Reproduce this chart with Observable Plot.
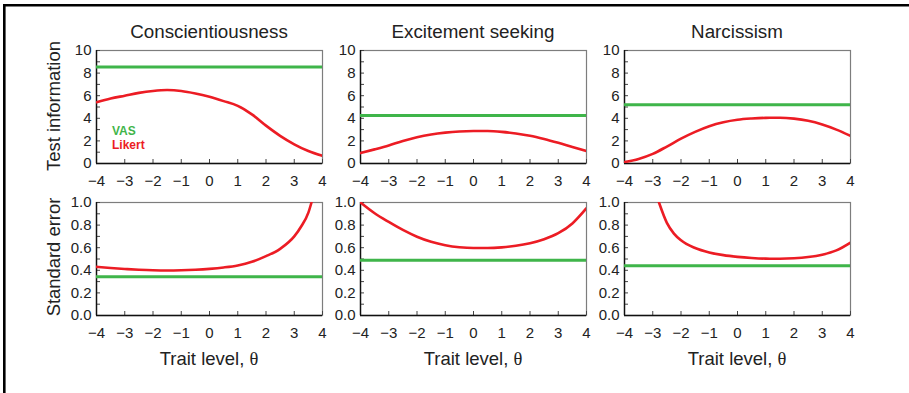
<!DOCTYPE html>
<html>
<head>
<meta charset="utf-8">
<script src="https://cdn.jsdelivr.net/npm/d3@7"></script>
<script src="https://cdn.jsdelivr.net/npm/@observablehq/plot@0.6"></script>
<style>
  html, body { margin: 0; padding: 0; background: #fff; }
  #wrap { position: relative; width: 909px; height: 393px; overflow: hidden; font-family: "Liberation Sans", Arial, Helvetica, sans-serif; }
  #wrap > svg, #wrap > figure { position: absolute; margin: 0; }
</style>
</head>
<body>
<div id="wrap"></div>
<script>
// ---------- data ----------
const traits = ["Conscientiousness", "Excitement seeking", "Narcissism"];
const rowTitles = ["Test information", "Standard error"];
const xLabel = "Trait level, ";
const legendLabels = ["VAS", "Likert"];

const xTicks = [-4, -3, -2, -1, 0, 1, 2, 3, 4];
const infoTicks = [0, 2, 4, 6, 8, 10];
const infoMinor = [1, 3, 5, 7, 9];
const seTicks = [0, 0.2, 0.4, 0.6, 0.8, 1.0];
const seMinor = [0.1, 0.3, 0.5, 0.7, 0.9];

const theta = [-4, -3.5, -3, -2.5, -2, -1.5, -1, -0.5, 0, 0.5, 1, 1.5, 2, 2.5, 3, 3.5, 4];

// Test information, Likert
const consInfo = [5.42, 5.75, 6.0, 6.25, 6.42, 6.5, 6.42, 6.2, 5.9, 5.52, 5.1, 4.35, 3.35, 2.45, 1.7, 1.1, 0.68];
const excInfo  = [0.92, 1.25, 1.6, 2.0, 2.33, 2.57, 2.73, 2.83, 2.87, 2.87, 2.8, 2.66, 2.46, 2.17, 1.83, 1.46, 1.1];
const narcInfo = [0.12, 0.4, 0.85, 1.5, 2.2, 2.8, 3.3, 3.65, 3.87, 3.98, 4.04, 4.05, 3.97, 3.78, 3.45, 3.0, 2.45];
// Test information, VAS (flat)
const vasInfo = [8.55, 4.25, 5.19];

// Standard error, Likert
const consSETheta = [-4, -3.5, -3, -2.5, -2, -1.5, -1, -0.5, 0, 0.5, 1, 1.5, 2, 2.5, 3, 3.25, 3.5, 3.61];
const consSE      = [0.43, 0.42, 0.412, 0.405, 0.40, 0.398, 0.40, 0.405, 0.413, 0.425, 0.443, 0.475, 0.525, 0.59, 0.70, 0.79, 0.91, 1.0];
const excSETheta  = theta;
const excSE       = [1.0, 0.905, 0.828, 0.757, 0.697, 0.652, 0.622, 0.604, 0.597, 0.597, 0.603, 0.617, 0.64, 0.675, 0.728, 0.815, 0.95];
const narcSETheta = [-2.78, -2.5, -2.25, -2, -1.5, -1, -0.5, 0, 0.5, 1, 1.5, 2, 2.5, 3, 3.5, 4];
const narcSE      = [1.0, 0.82, 0.725, 0.665, 0.597, 0.558, 0.534, 0.519, 0.509, 0.503, 0.502, 0.506, 0.517, 0.538, 0.576, 0.645];
// Standard error, VAS (flat)
const vasSE = [0.343, 0.488, 0.44];

// ---------- style ----------
const GREEN = "#3fb54a";
const RED = "#ec1c24";
const FONT = '"Liberation Sans", Arial, Helvetica, sans-serif';

const colX = [96, 360, 624];
const rowY = [50, 202];
const PW = 226, PH = 113;
const ML = 40, MR = 6, MT = 6, MB = 30;

const wrap = document.getElementById("wrap");
const fmtX = d3.format("d");

function panel(col, row) {
  const isInfo = row === 0;
  const xs = isInfo ? theta : [consSETheta, excSETheta, narcSETheta][col];
  const ys = isInfo ? [consInfo, excInfo, narcInfo][col] : [consSE, excSE, narcSE][col];
  const data = xs.map((t, i) => ({t, v: ys[i]}));
  const domain = isInfo ? [0, 10] : [0, 1];
  const major = isInfo ? infoTicks : seTicks;
  const minor = isInfo ? infoMinor : seMinor;
  const vas = isInfo ? vasInfo[col] : vasSE[col];
  const chart = Plot.plot({
    width: PW + ML + MR,
    height: PH + MT + MB,
    marginLeft: ML, marginRight: MR, marginTop: MT, marginBottom: MB,
    x: {domain: [-4, 4]},
    y: {domain},
    style: {fontFamily: FONT, fontSize: "15px", color: "#222", background: "transparent", overflow: "visible"},
    marks: [
      Plot.frame({stroke: "#7d7d7d", strokeWidth: 1.2}),
      Plot.axisX(xTicks, {tickSize: 4, dy: -4, fill: "none", label: null, stroke: "#444"}),
      Plot.axisX(xTicks, {tickSize: 0, tickPadding: 12, label: null, tickFormat: fmtX, fontSize: 15}),
      Plot.axisY(major.concat(minor), {tickSize: 4, dx: 4, fill: "none", label: null, stroke: "#444"}),
      Plot.axisY(major, {tickSize: 0, tickPadding: 5, label: null, fontSize: 15, tickFormat: isInfo ? d3.format("d") : d3.format(".1f")}),
      Plot.ruleY([domain[0]], {stroke: "#111", strokeWidth: 1.4}),
      Plot.ruleX([-4], {stroke: "#111", strokeWidth: 1.4}),
      Plot.ruleY([vas], {stroke: GREEN, strokeWidth: 3}),
      Plot.line(data, {x: "t", y: "v", stroke: RED, strokeWidth: 2.6, curve: "monotone-x", clip: true})
    ]
  });
  chart.style.position = "absolute";
  chart.style.left = (colX[col] - ML) + "px";
  chart.style.top = (rowY[row] - MT) + "px";
  wrap.appendChild(chart);
}

for (let r = 0; r < 2; r++) for (let c = 0; c < 3; c++) panel(c, r);

// ---------- overlay text ----------
const svg = d3.select(wrap).append("svg")
  .attr("width", 909).attr("height", 393)
  .style("position", "absolute").style("left", 0).style("top", 0)
  .style("pointer-events", "none")
  .attr("font-family", FONT);

svg.append("path").attr("d", "M4.3,393 V5.3 H909").attr("fill", "none").attr("stroke", "#000").attr("stroke-width", 2.6);

traits.forEach((t, i) => {
  svg.append("text").attr("x", colX[i] + PW / 2).attr("y", 38).attr("text-anchor", "middle")
    .attr("font-size", 18.8).attr("fill", "#222").text(t);
  const tx = svg.append("text").attr("x", colX[i] + PW / 2).attr("y", 365).attr("text-anchor", "middle")
    .attr("font-size", 18.5).attr("fill", "#222");
  tx.append("tspan").text(xLabel);
  tx.append("tspan").attr("font-family", '"Liberation Serif", "DejaVu Serif", serif').text("θ");
});

[[106, rowTitles[0]], [257, rowTitles[1]]].forEach(([cy, label]) => {
  svg.append("text").attr("transform", `translate(59.5,${cy}) rotate(-90)`).attr("text-anchor", "middle")
    .attr("font-size", 18.4).attr("fill", "#222").text(label);
});

svg.append("text").attr("x", 112).attr("y", 135).attr("font-size", 12).attr("font-weight", "bold").attr("fill", GREEN).text(legendLabels[0]);
svg.append("text").attr("x", 112).attr("y", 149).attr("font-size", 12).attr("font-weight", "bold").attr("fill", RED).text(legendLabels[1]);
</script>
</body>
</html>
